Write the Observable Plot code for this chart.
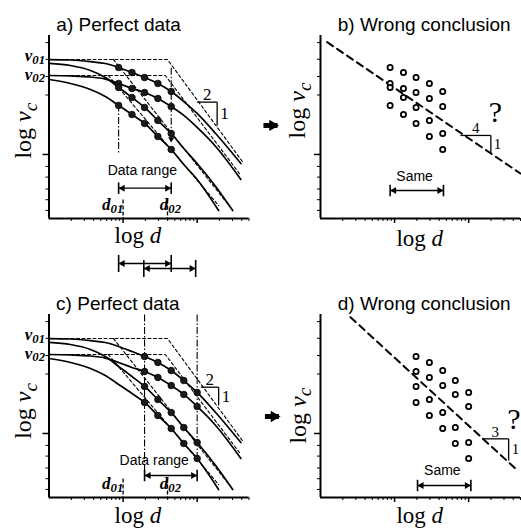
<!DOCTYPE html>
<html>
<head>
<meta charset="utf-8">
<script src="https://cdn.jsdelivr.net/npm/d3@7"></script>
<script src="https://cdn.jsdelivr.net/npm/@observablehq/plot@0.6"></script>
<style>
  html, body { margin: 0; padding: 0; background: #fff; }
  #chart { width: 521px; height: 532px; overflow: hidden; }
</style>
</head>
<body>
<div id="chart"></div>
<script>
// ---------------- panels ----------------
const panelIds    = ["a", "b", "c", "d"];
const panelCols   = ["L", "R", "L", "R"];
const panelRows   = ["T", "T", "B", "B"];
const panelTitles = ["a) Perfect data", "b) Wrong conclusion", "c) Perfect data", "d) Wrong conclusion"];
const titleX  = [0.94, 1.40, 0.93, 1.40];
const titleY  = [1.035, 1.035, 1.04, 1.04];
const xLabelX = [1.20, 1.34, 1.20, 1.34];
const xLabelY = [-0.74, -0.765, -0.75, -0.755];
const yLabelX = [-0.345, -0.31, -0.345, -0.30];
const yLabelY = [0.20, 0.37, 0.19, 0.15];

// ---------------- axis ticks (decades of log d, log v_c) ----------------
const xMajorTicks = [1, 2];
const xMinorSteps = [2, 3, 4, 5, 6, 7, 8, 9];
const yMajorTicks = [0];
const yMinorTicks = [0.94, 0.80, 0.655, 0.50, -0.10, -0.19, -0.29, -0.38, -0.47];

// ---------------- model curves (panels a and c) ----------------
const curveAx = [0, 0.29, 0.56, 0.76, 0.94, 1.12, 1.29, 1.47, 1.65, 1.82, 2.0, 2.25, 2.59];
const curveAy = [0.798, 0.794, 0.78, 0.765, 0.731, 0.689, 0.647, 0.597, 0.529, 0.445, 0.345, 0.176, -0.076];
const curveBx = [0, 0.29, 0.56, 0.76, 0.94, 1.12, 1.29, 1.47, 1.65, 1.82, 2.0, 2.25, 2.59];
const curveBy = [0.664, 0.66, 0.651, 0.634, 0.597, 0.555, 0.521, 0.471, 0.403, 0.328, 0.227, 0.067, -0.21];
const curveCx = [0, 0.29, 0.56, 0.76, 0.94, 1.12, 1.29, 1.47, 1.65, 1.82, 2.0, 2.25, 2.48];
const curveCy = [0.765, 0.748, 0.706, 0.647, 0.563, 0.479, 0.395, 0.286, 0.176, 0.05, -0.076, -0.269, -0.471];
const curveDx = [0, 0.29, 0.56, 0.76, 0.94, 1.12, 1.29, 1.47, 1.65, 1.82, 2.0, 2.29];
const curveDy = [0.63, 0.597, 0.546, 0.487, 0.412, 0.336, 0.261, 0.151, 0.042, -0.084, -0.21, -0.471];

// data range (measured points) per panel a,b,c,d
const rangeX1 = [0.94, 0.94, 1.29, 1.29];
const rangeX2 = [1.65, 1.65, 2.0, 2.0];

// asymptotes (dashed)
const asym1x = [0, 1.60, 2.61];  const asym1y = [0.798, 0.798, -0.059];
const asym2x = [0, 1.57, 2.59];  const asym2y = [0.664, 0.664, -0.176];
const asym3x = [0.87, 2.43];     const asym3y = [0.798, -0.429];
const asym4x = [0.80, 2.29];     const asym4y = [0.664, -0.429];

// wrong-conclusion fits (panels b, d)
const fitBx = [0.09, 2.70];  const fitBy = [0.944, -0.16];
const fitDx = [0.405, 2.66]; const fitDy = [0.977, -0.311];

// dash-dot verticals
const ddPanels = ["a", "a", "c", "c"];
const ddX  = [0.94, 1.65, 1.29, 2.0];
const ddY1 = [0.42, 0.73, 1.0, 1.0];
const ddY2 = [0.008, 0.14, -0.336, -0.227];
const downHeadX = [1.65]; const downHeadY = [0.13];

// d01, d02 markers
const dMarkPanels = ["a", "a", "c", "c"];
const dMarkX = [1.0, 1.6, 1.0, 1.6];
const dMarkY1 = -0.378, dMarkY2 = -0.538;
const dLabelText = ["d_01", "d_02", "d_01", "d_02"];
const dLabelX = [0.86, 1.64, 0.86, 1.64];
const dLabelY = -0.47;

// v01, v02 labels
const vLabelPanels = ["a", "a", "c", "c"];
const vLabelText = ["v_01", "v_02", "v_01", "v_02"];
const vLabelY = [0.82, 0.664, 0.82, 0.664];

// range arrows
const arrowPanels = ["a", "b", "c", "d", "a", "a"];
const arrowX1 = [0.94, 0.94, 1.29, 1.31, 0.94, 1.28];
const arrowX2 = [1.65, 1.66, 2.0, 2.03, 1.65, 1.98];
const arrowY  = [-0.283, -0.303, -0.353, -0.437, -0.916, -0.958];
const arrowText  = ["Data range", "Same", "Data range", "Same", "", ""];
const arrowTextX = [1.26, 1.27, 1.42, 1.645, 0, 0];
const arrowTextY = [-0.176, -0.227, -0.269, -0.353, 0, 0];

// slope triangles
const triPanels = ["a", "b", "c", "d"];
const triX0 = [2.0, 1.89, 2.05, 2.18];
const triX1 = [2.27, 2.30, 2.29, 2.54];
const triY0 = [0.44, 0.16, 0.389, -0.045];
const triY1 = [0.244, 0.008, 0.235, -0.227];
const triRun  = ["2", "4", "2", "3"];
const triRise = ["1", "1", "1", "1"];

// question marks and transition arrows
const qPanels = ["b", "d"]; const qX = [2.36, 2.61]; const qY = [0.353, 0.118];
const goPanels = ["b", "d"]; const goX1 = [-0.77, -0.75]; const goX2 = [-0.58, -0.56]; const goY = [0.244, 0.143];

// ---------------- build tables ----------------
const fac = p => { const i = panelIds.indexOf(p); return {fx: panelCols[i], fy: panelRows[i]}; };
const curves = [
  {k: "A", xs: curveAx, ys: curveAy}, {k: "B", xs: curveBx, ys: curveBy},
  {k: "C", xs: curveCx, ys: curveCy}, {k: "D", xs: curveDx, ys: curveDy}
];
const curveRows = ["a", "c"].flatMap(p => curves.flatMap(c =>
  c.xs.map((x, j) => ({...fac(p), k: p + c.k, x, y: c.ys[j]}))));
const dotRows = panelIds.flatMap((p, i) => curves.flatMap(c =>
  c.xs.map((x, j) => ({...fac(p), x, y: c.ys[j], open: i % 2 === 1}))
   .filter(d => d.x >= rangeX1[i] - 1e-6 && d.x <= rangeX2[i] + 1e-6)));
const asyms = [[asym1x, asym1y], [asym2x, asym2y], [asym3x, asym3y], [asym4x, asym4y]];
const asymRows = ["a", "c"].flatMap(p => asyms.flatMap(([xs, ys], n) =>
  xs.map((x, j) => ({...fac(p), k: p + n, x, y: ys[j]}))));
const fitRows = [
  ...fitBx.map((x, j) => ({...fac("b"), k: "b", x, y: fitBy[j]})),
  ...fitDx.map((x, j) => ({...fac("d"), k: "d", x, y: fitDy[j]}))
];
const ddRows = ddPanels.map((p, i) => ({...fac(p), x: ddX[i], y1: ddY1[i], y2: ddY2[i]}));
const downRows = downHeadX.map((x, i) => ({...fac("a"), x, y: downHeadY[i]}));
const dMarkRows = dMarkPanels.map((p, i) => ({...fac(p), x: dMarkX[i], y1: dMarkY1, y2: dMarkY2}));
const dLabelRows = dMarkPanels.map((p, i) => ({...fac(p), x: dLabelX[i], y: dLabelY, t: dLabelText[i], a: i % 2 ? "start" : "end"}));
const vLabelRows = vLabelPanels.map((p, i) => ({...fac(p), x: 0, y: vLabelY[i], t: vLabelText[i]}));
const arrowRows = arrowPanels.map((p, i) => ({...fac(p), x1: arrowX1[i], x2: arrowX2[i], y: arrowY[i],
  h: arrowY[i] < -0.8 ? 0.072 : 0.048}));
const barRows = arrowRows.flatMap(d => [{...d, x: d.x1}, {...d, x: d.x2}]);
const arrowTextRows = arrowPanels.map((p, i) => ({...fac(p), x: arrowTextX[i], y: arrowTextY[i], t: arrowText[i]})).filter(d => d.t);
const triRows = triPanels.map((p, i) => ({...fac(p), x0: triX0[i], x1: triX1[i], y0: triY0[i], y1: triY1[i],
  run: triRun[i], rise: triRise[i], big: i % 2 === 0}));
const qRows = qPanels.map((p, i) => ({...fac(p), x: qX[i], y: qY[i]}));
const goRows = goPanels.map((p, i) => ({...fac(p), x1: goX1[i], x2: goX2[i], y: goY[i]}));
const titleRows = panelIds.map((p, i) => ({...fac(p), x: titleX[i], y: titleY[i], t: panelTitles[i]}));
const xLabRows = panelIds.map((p, i) => ({...fac(p), x: xLabelX[i], y: xLabelY[i], t: "log d"}));
const yLabRows = panelIds.map((p, i) => ({...fac(p), x: yLabelX[i], y: yLabelY[i], t: "log v_c"}));
const xMinorTicks = [0, 1, 2].flatMap(n => xMinorSteps.map(k => n + Math.log10(k))).filter(v => v <= 2.7);

const F = {fx: "fx", fy: "fy"};
const serif = "Liberation Serif, Times New Roman, serif";
const sans = "Liberation Sans, Arial, sans-serif";
const noText = () => "";
const ink = {fill: "#000"};

const svg = Plot.plot({
  width: 521, height: 532,
  marginLeft: 48.5, marginRight: 1, marginTop: 35, marginBottom: 35,
  style: {background: "#fff", overflow: "visible", color: "#000"},
  x: {domain: [0, 2.7]},
  y: {domain: [-0.538, 1.0]},
  fx: {domain: ["L", "R"], axis: null, paddingInner: 0.26335, paddingOuter: 0, round: false},
  fy: {domain: ["T", "B"], axis: null, paddingInner: 0.34409, paddingOuter: 0, round: false},
  marks: [
    // axes
    Plot.axisX(xMinorTicks, {anchor: "bottom", tickSize: 3, tickFormat: noText, label: null, facetAnchor: null, strokeWidth: 1}),
    Plot.axisX(xMajorTicks, {anchor: "bottom", tickSize: 5, tickFormat: noText, label: null, facetAnchor: null, strokeWidth: 1.5}),
    Plot.axisY(yMinorTicks, {anchor: "left", tickSize: 3, tickFormat: noText, label: null, facetAnchor: null, strokeWidth: 1}),
    Plot.axisY(yMajorTicks, {anchor: "left", tickSize: 6, tickFormat: noText, label: null, facetAnchor: null, strokeWidth: 1.5}),
    Plot.ruleX([0], {strokeWidth: 2}),
    Plot.ruleY([-0.538], {strokeWidth: 2}),
    // asymptotes
    Plot.line(asymRows, {x: "x", y: "y", z: "k", ...F, stroke: "#000", strokeWidth: 1.1, strokeDasharray: "3,2.5"}),
    // model curves
    Plot.line(curveRows, {x: "x", y: "y", z: "k", ...F, stroke: "#000", strokeWidth: 1.7, curve: "monotone-x"}),
    // dash-dot verticals
    Plot.link(ddRows, {x1: "x", x2: "x", y1: "y1", y2: "y2", ...F, stroke: "#000", strokeWidth: 1.1, strokeDasharray: "7,2,1.5,2"}),
    Plot.dot(downRows, {x: "x", y: "y", ...F, symbol: "triangle", r: 2.3, rotate: 180, fill: "#000", stroke: "none"}),
    // d01/d02 markers
    Plot.link(dMarkRows, {x1: "x", x2: "x", y1: "y1", y2: "y2", ...F, stroke: "#000", strokeWidth: 1.3, strokeDasharray: "4,2"}),
    // wrong fits
    Plot.line(fitRows, {x: "x", y: "y", z: "k", ...F, stroke: "#000", strokeWidth: 2, strokeDasharray: "7,5"}),
    // slope triangles
    Plot.link(triRows, {x1: "x0", x2: "x1", y1: "y0", y2: "y0", ...F, stroke: "#000", strokeWidth: 1.3}),
    Plot.link(triRows, {x1: "x1", x2: "x1", y1: "y0", y2: "y1", ...F, stroke: "#000", strokeWidth: 1.3}),
    Plot.text(triRows, {x: d => (d.x0 + d.x1) / 2, y: "y0", text: "run", ...F, ...ink, dy: -2, lineAnchor: "bottom",
      fontFamily: serif, fontSize: d => d.big ? 17 : 15}),
    Plot.text(triRows, {x: "x1", y: d => (d.y0 + d.y1) / 2, text: "rise", ...F, ...ink, dx: 3, textAnchor: "start",
      fontFamily: serif, fontSize: d => d.big ? 17 : 15}),
    // data points
    Plot.dot(dotRows.filter(d => !d.open), {x: "x", y: "y", ...F, r: 3.3, fill: "#1a1a1a", stroke: "#000", strokeWidth: 0.8}),
    Plot.dot(dotRows.filter(d => d.open), {x: "x", y: "y", ...F, r: 2.6, fill: "#fff", stroke: "#000", strokeWidth: 1.8}),
    // range arrows
    Plot.link(arrowRows, {x1: "x1", x2: "x2", y1: "y", y2: "y", ...F, stroke: "#000", strokeWidth: 1.4}),
    Plot.link(barRows, {x1: "x", x2: "x", y1: d => d.y - d.h, y2: d => d.y + d.h, ...F, stroke: "#000", strokeWidth: 1.6}),
    Plot.dot(arrowRows, {x: "x1", y: "y", ...F, symbol: "triangle", r: 2.6, rotate: -90, dx: 4, fill: "#000", stroke: "none"}),
    Plot.dot(arrowRows, {x: "x2", y: "y", ...F, symbol: "triangle", r: 2.6, rotate: 90, dx: -4, fill: "#000", stroke: "none"}),
    Plot.text(arrowTextRows, {x: "x", y: "y", text: "t", ...F, ...ink, lineAnchor: "bottom", fontFamily: sans, fontSize: 14}),
    // transition arrows (thick)
    Plot.link(goRows, {x1: "x1", x2: "x2", y1: "y", y2: "y", ...F, stroke: "#000", strokeWidth: 5, insetRight: 5}),
    Plot.dot(goRows, {x: "x2", y: "y", ...F, symbol: "triangle", r: 4.2, rotate: 90, dx: -5, fill: "#000", stroke: "none"}),
    // labels
    Plot.text(vLabelRows, {x: "x", y: "y", text: "t", ...F, ...ink, dx: -4, dy: -1, textAnchor: "end", lineAnchor: "middle",
      fontFamily: serif, fontSize: 17, fontWeight: "bold", fontStyle: "italic"}),
    Plot.text(dLabelRows, {x: "x", y: "y", text: "t", ...F, ...ink, textAnchor: "a", lineAnchor: "bottom",
      fontFamily: serif, fontSize: 17, fontWeight: "bold", fontStyle: "italic"}),
    Plot.text(qRows, {x: "x", y: "y", text: () => "?", ...F, ...ink, lineAnchor: "middle", fontFamily: serif, fontSize: 30}),
    Plot.text(titleRows, {x: "x", y: "y", text: "t", ...F, ...ink, lineAnchor: "bottom", fontFamily: sans, fontSize: 19}),
    Plot.text(xLabRows, {x: "x", y: "y", text: "t", ...F, ...ink, lineAnchor: "bottom", fontFamily: serif, fontSize: 23}),
    Plot.text(yLabRows, {x: "x", y: "y", text: "t", ...F, ...ink, rotate: -90, lineAnchor: "middle", fontFamily: serif, fontSize: 24})
  ]
});

// rich text: italic variable letters and subscripts
d3.select(svg).selectAll("text").each(function () {
  const t = this.textContent;
  const m = t.match(/^(log )?([a-z])(?:_(\w+))?$/);
  if (!m) return;
  const el = d3.select(this);
  const small = !m[1];
  el.text(null);
  if (m[1]) el.append("tspan").attr("font-style", "normal").text("log\u00a0");
  el.append("tspan").attr("font-style", "italic").text(m[2]);
  if (m[3]) el.append("tspan").attr("font-style", "italic")
    .attr("font-size", small ? "0.75em" : "0.8em").attr("dy", small ? "0.18em" : "0.28em").text(m[3]);
});

document.getElementById("chart").appendChild(svg);
</script>
</body>
</html>
